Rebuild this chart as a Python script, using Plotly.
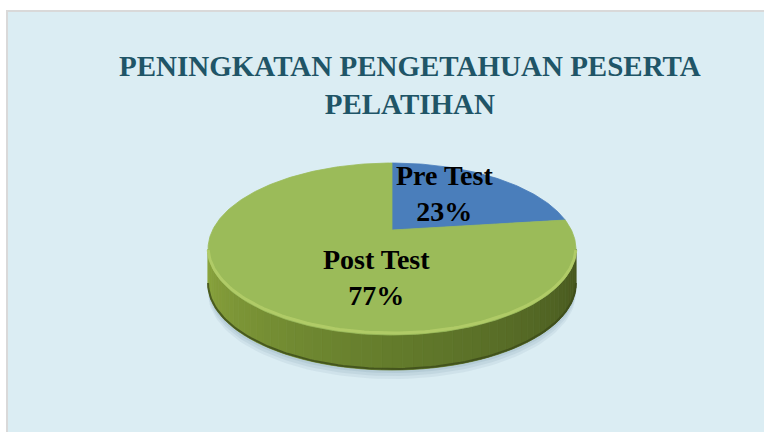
import numpy as np
import plotly.graph_objects as go

# ---- data ----
categories = ["Pre Test", "Post Test"]
values = [23, 77]
title_lines = ["PENINGKATAN PENGETAHUAN PESERTA", "PELATIHAN"]

# ---- styles / layout ----
W, H = 764, 432
top_colors = ["#4A7EBB", "#9BBB59"]
side_dark = np.array([70, 86, 31])
side_mid = np.array([100, 124, 44])
side_light = np.array([140, 166, 62])
bg_panel = "#DBEDF3"
title_color = "#1F5567"
font_fam = "Liberation Serif, Times New Roman, serif"

# 3D-ish pie geometry (screen pixels)
cx, cy = 392.0, 230.0
S, B, P = 179.4, 81.8, 0.221
depth = 35.0


def proj(theta_deg, r=1.0):
    t = np.radians(theta_deg)
    u = r * np.sin(t)
    v = r * np.cos(t)
    den = 1 + P * v
    return cx + S * u / den, cy - B * v / den


fig = go.Figure()

# shadow under the pie
for off, alpha in [(9, 0.10), (6, 0.12), (3, 0.15)]:
    th = np.linspace(0, 360, 181)
    xs, ys = proj(th)
    fig.add_trace(go.Scatter(x=xs, y=ys + depth + off, fill="toself",
                             fillcolor=f"rgba(110,140,160,{alpha})",
                             line=dict(width=0), mode="lines",
                             hoverinfo="skip", showlegend=False))

# side wall (visible front part)
th_r = np.degrees(np.arccos(-P))
th_l = 360 - th_r
n = 60
edges = np.linspace(th_r, th_l, n + 1)
for i in range(n):
    a0, a1 = edges[i], edges[i + 1]
    f = ((a0 + a1) / 2 - th_r) / (th_l - th_r)
    if f < 0.5:
        c = side_dark + (side_mid - side_dark) * (f / 0.5)
    else:
        c = side_mid + (side_light - side_mid) * ((f - 0.5) / 0.5)
    cc = np.clip(c, 0, 255).astype(int)
    col = f"rgb({cc[0]},{cc[1]},{cc[2]})"
    x0, y0 = proj(a0)
    x1, y1 = proj(a1)
    fig.add_trace(go.Scatter(
        x=[x0, x1, x1, x0, x0],
        y=[y0, y1, y1 + depth, y0 + depth, y0],
        fill="toself", fillcolor=col, line=dict(width=0.8, color=col),
        mode="lines", hoverinfo="skip", showlegend=False))

# darker rim at the bottom of the wall
th = np.linspace(th_r, th_l, 120)
xs, ys = proj(th)
fig.add_trace(go.Scatter(x=xs, y=ys + depth - 1, mode="lines",
                         line=dict(width=2, color="rgba(60,75,25,0.8)"),
                         hoverinfo="skip", showlegend=False))

# top face slices
total = sum(values)
start = 0.0
for cat, val, col in zip(categories, values, top_colors):
    span = 360.0 * val / total
    th = np.linspace(start, start + span, max(int(span), 4) + 1)
    xs, ys = proj(th)
    xs = np.concatenate([[cx], xs, [cx]])
    ys = np.concatenate([[cy], ys, [cy]])
    fig.add_trace(go.Scatter(x=xs, y=ys, fill="toself", fillcolor=col,
                             line=dict(width=0.8, color=col), mode="lines",
                             hoverinfo="skip", showlegend=False, name=cat))
    start += span

# bevel highlight along the front edge
th = np.linspace(th_r + 2, th_l - 2, 120)
xs, ys = proj(th)
fig.add_trace(go.Scatter(x=xs, y=ys - 2, mode="lines",
                         line=dict(width=3, color="rgba(178,205,104,0.9)"),
                         hoverinfo="skip", showlegend=False))

# labels
label_pos = [(444, 193), (376, 277)]
for cat, val, (lx, ly) in zip(categories, values, label_pos):
    fig.add_annotation(x=lx, y=ly, xref="x", yref="y", showarrow=False,
                       text=f"<b>{cat}<br>{round(100 * val / total)}%</b>",
                       font=dict(family=font_fam, size=28, color="black"),
                       xanchor="center", yanchor="middle")

# title
fig.add_annotation(x=410, y=85, xref="x", yref="y", showarrow=False,
                   text="<b>" + "<br>".join(title_lines) + "</b>",
                   font=dict(family=font_fam, size=29, color=title_color),
                   xanchor="center", yanchor="middle")

fig.update_layout(
    width=W, height=H,
    margin=dict(l=0, r=0, t=0, b=0),
    paper_bgcolor="white", plot_bgcolor="white",
    xaxis=dict(range=[0, W], visible=False, fixedrange=True),
    yaxis=dict(range=[H, 0], visible=False, fixedrange=True),
    showlegend=False,
    hovermode=False,
    shapes=[dict(type="rect", xref="x", yref="y", x0=7, y0=11, x1=W + 5, y1=H + 5,
                 fillcolor=bg_panel, line=dict(color="#D9D9D9", width=2), layer="below")],
)

fig.write_html(
    "out.html",
    config={"displayModeBar": False},
    post_script="document.body.style.margin='0';document.body.style.overflow='hidden';",
)
